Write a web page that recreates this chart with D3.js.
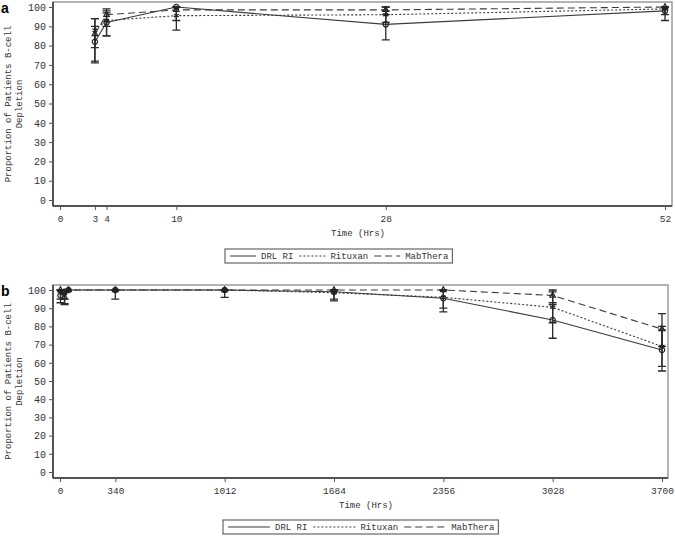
<!DOCTYPE html>
<html>
<head>
<meta charset="utf-8">
<script src="https://cdn.jsdelivr.net/npm/d3@7"></script>
<style>
  body { margin: 0; background: #fff; }
  text { font-family: "Liberation Mono", "DejaVu Sans Mono", monospace; fill: #333; }
</style>
</head>
<body>
<div id="chart"></div>
<script>
// series labels and styles (legend order)
const seriesNames = ["DRL RI", "Rituxan", "MabThera"];

// panel a: early time points (hrs)
const timesA = [3, 4, 10, 28, 52];
const xTicksA = [0, 3, 4, 10, 28, 52];
const drlA = [82, 92, 100, 91, 98];
const drlLowA = [72, 85, 100, 83, 93];
const drlHighA = [90, 97, 100, 98, 100];
const rituxanA = [88, 93, 95.5, 96, 99];
const rituxanLowA = [79, 85, 88, 92, 96];
const rituxanHighA = [94, 98, 100, 100, 100];
const mabtheraA = [86, 96, 98.5, 98.5, 100];
const mabtheraLowA = [71, 90, 93, 96, 100];
const mabtheraHighA = [94, 99, 100, 100, 100];

// panel b: whole follow-up (hrs)
const timesB = [3, 28, 52, 340, 1012, 1684, 2356, 3028, 3700];
const xTicksB = [0, 340, 1012, 1684, 2356, 3028, 3700];
const drlB = [97, 99, 100, 100, 100, 99, 95.5, 83.5, 67];
const drlLowB = [93, 95, 100, 95, 96, 94, 88, 73.5, 55.5];
const drlHighB = [100, 100, 100, 100, 100, 100, 100, 93, 78];
const rituxanB = [99, 98, 100, 100, 100, 98.5, 96, 90.5, 69];
const rituxanLowB = [95, 92, 100, 100, 100, 95, 90, 82, 58];
const rituxanHighB = [100, 100, 100, 100, 100, 100, 100, 99, 80];
const mabtheraB = [100, 96, 100, 100, 100, 100, 100, 97, 78.5];
const mabtheraLowB = [100, 92.5, 100, 100, 100, 100, 100, 92, 69];
const mabtheraHighB = [100, 100, 100, 100, 100, 100, 100, 100, 87];

const yTicks = d3.range(0, 101, 10);

const dashes = { "DRL RI": null, "Rituxan": "2,2", "MabThera": "7,4" };
const symbols = {
  "DRL RI": d3.symbolCircle,
  "Rituxan": d3.symbolAsterisk,
  "MabThera": d3.symbolTriangle2,
};

const svg = d3
  .select("#chart")
  .append("svg")
  .attr("width", 675)
  .attr("height", 538);

function buildSeries(times, vals) {
  return seriesNames.map((name, i) => ({
    name: name,
    points: times.map((t, j) => ({
      t: t,
      v: vals[i][0][j],
      lo: vals[i][1][j],
      hi: vals[i][2][j],
    })),
  }));
}

function drawPanel(cfg) {
  const g = svg.append("g");
  const x = d3.scaleLinear().domain(cfg.xDomain).range(cfg.xRange);
  const y = d3.scaleLinear().domain([0, 100]).range(cfg.yRange);

  // panel letter
  g.append("text")
    .attr("x", 1)
    .attr("y", cfg.frame.top + 11)
    .style("font-family", "Liberation Sans, Arial, sans-serif")
    .style("font-weight", "bold")
    .style("font-size", "14px")
    .style("fill", "#000")
    .text(cfg.letter);

  // frame (top/right light)
  g.append("rect")
    .attr("x", cfg.frame.left)
    .attr("y", cfg.frame.top)
    .attr("width", cfg.frame.right - cfg.frame.left)
    .attr("height", cfg.frame.bottom - cfg.frame.top)
    .attr("fill", "none")
    .attr("stroke", "#9a9a9a")
    .attr("stroke-width", 1.5);

  // y axis
  const yAxis = g
    .append("g")
    .attr("transform", `translate(${cfg.frame.left},0)`)
    .call(d3.axisLeft(y).tickValues(yTicks).tickSize(4).tickPadding(3));
  yAxis.select(".domain")
    .attr("d", `M0,${cfg.frame.top}V${cfg.frame.bottom}`)
    .attr("stroke", "#555")
    .attr("stroke-width", 2);
  yAxis.selectAll(".tick line").attr("stroke", "#555");
  yAxis.selectAll(".tick text")
    .style("font-size", "10px")
    .style("fill", "#333");

  // x axis
  const xAxis = g
    .append("g")
    .attr("transform", `translate(0,${cfg.frame.bottom})`)
    .call(
      d3.axisBottom(x)
        .tickValues(cfg.xTicks)
        .tickFormat(d3.format("d"))
        .tickSize(4)
        .tickPadding(5)
    );
  xAxis.select(".domain")
    .attr("d", `M${cfg.frame.left},0H${cfg.frame.right}`)
    .attr("stroke", "#555")
    .attr("stroke-width", 2);
  xAxis.selectAll(".tick line").attr("stroke", "#555");
  xAxis.selectAll(".tick text")
    .style("font-size", "9.5px")
    .style("fill", "#333");

  // y label, two lines
  const midY = (cfg.frame.top + cfg.frame.bottom) / 2;
  const yl = g
    .append("text")
    .attr("transform", `translate(11,${midY}) rotate(-90)`)
    .style("text-anchor", "middle")
    .style("font-size", "9px");
  yl.append("tspan").attr("x", 0).attr("dy", 0).text("Proportion of Patients B-cell");
  yl.append("tspan").attr("x", 0).attr("dy", 11).text("Depletion");

  // x label
  g.append("text")
    .attr("x", cfg.xLabelX)
    .attr("y", cfg.xLabelY)
    .style("text-anchor", "middle")
    .style("font-size", "9px")
    .text("Time (Hrs)");

  const series = cfg.series;

  // lines
  const line = d3
    .line()
    .x((d) => x(d.t))
    .y((d) => y(d.v));
  g.selectAll("path.line")
    .data(series)
    .join("path")
    .attr("class", "line")
    .attr("d", (d) => line(d.points))
    .attr("fill", "none")
    .attr("stroke", "#3a3a3a")
    .attr("stroke-width", 1.1)
    .attr("stroke-dasharray", (d) => dashes[d.name]);

  // error bars
  const errG = g
    .selectAll("g.err")
    .data(series)
    .join("g")
    .attr("class", "err")
    .attr("stroke", "#2a2a2a")
    .attr("stroke-width", 1.3);
  errG.selectAll("line.bar")
    .data((d) => d.points.filter((p) => p.hi > p.lo))
    .join("line")
    .attr("class", "bar")
    .attr("x1", (d) => x(d.t))
    .attr("x2", (d) => x(d.t))
    .attr("y1", (d) => y(d.lo))
    .attr("y2", (d) => y(d.hi));
  errG.selectAll("path.cap")
    .data((d) => d.points.filter((p) => p.hi > p.lo))
    .join("path")
    .attr("class", "cap")
    .attr("d", (d) =>
      `M${x(d.t) - 4},${y(d.lo)}H${x(d.t) + 4}M${x(d.t) - 4},${y(d.hi)}H${x(d.t) + 4}`
    );

  // markers
  g.selectAll("g.markers")
    .data(series)
    .join("g")
    .attr("class", "markers")
    .selectAll("path")
    .data((d) => d.points.map((p) => ({ name: d.name, p: p })))
    .join("path")
    .attr("transform", (d) => `translate(${x(d.p.t)},${y(d.p.v)})`)
    .attr("d", (d) => d3.symbol().type(symbols[d.name]).size(22)())
    .attr("fill", "none")
    .attr("stroke", "#222")
    .attr("stroke-width", 1.2);

  // legend
  const lg = g.append("g").attr("transform", `translate(${cfg.legend.x},${cfg.legend.y})`);
  let cx = 5;
  seriesNames.forEach((name) => {
    const item = lg.append("g");
    item.append("line")
      .attr("x1", cx)
      .attr("x2", cx + cfg.legend.sample)
      .attr("y1", 7)
      .attr("y2", 7)
      .attr("stroke", "#3a3a3a")
      .attr("stroke-width", 1)
      .attr("stroke-dasharray", dashes[name]);
    cx += cfg.legend.sample + 5;
    const t = item.append("text")
      .attr("x", cx)
      .attr("y", 10)
      .style("font-size", "9px")
      .text(name);
    cx += t.node().getComputedTextLength() + 6;
  });
  lg.insert("rect", ":first-child")
    .attr("x", 0)
    .attr("y", 0)
    .attr("width", cx - 2)
    .attr("height", 14)
    .attr("fill", "#fff")
    .attr("stroke", "#666")
    .attr("stroke-width", 1.2);
}

drawPanel({
  letter: "a",
  xDomain: [0, 52],
  xRange: [60, 665],
  yRange: [200, 7],
  xTicks: xTicksA,
  frame: { left: 53, right: 672, top: 2, bottom: 206 },
  xLabelX: 358,
  xLabelY: 236,
  legend: { x: 225, y: 249, sample: 26 },
  series: buildSeries(timesA, [
    [drlA, drlLowA, drlHighA],
    [rituxanA, rituxanLowA, rituxanHighA],
    [mabtheraA, mabtheraLowA, mabtheraHighA],
  ]),
});

drawPanel({
  letter: "b",
  xDomain: [0, 3700],
  xRange: [60, 662],
  yRange: [472, 290],
  xTicks: xTicksB,
  frame: { left: 53, right: 668, top: 285, bottom: 478 },
  xLabelX: 366,
  xLabelY: 508,
  legend: { x: 223, y: 520, sample: 42 },
  series: buildSeries(timesB, [
    [drlB, drlLowB, drlHighB],
    [rituxanB, rituxanLowB, rituxanHighB],
    [mabtheraB, mabtheraLowB, mabtheraHighB],
  ]),
});
</script>
</body>
</html>
